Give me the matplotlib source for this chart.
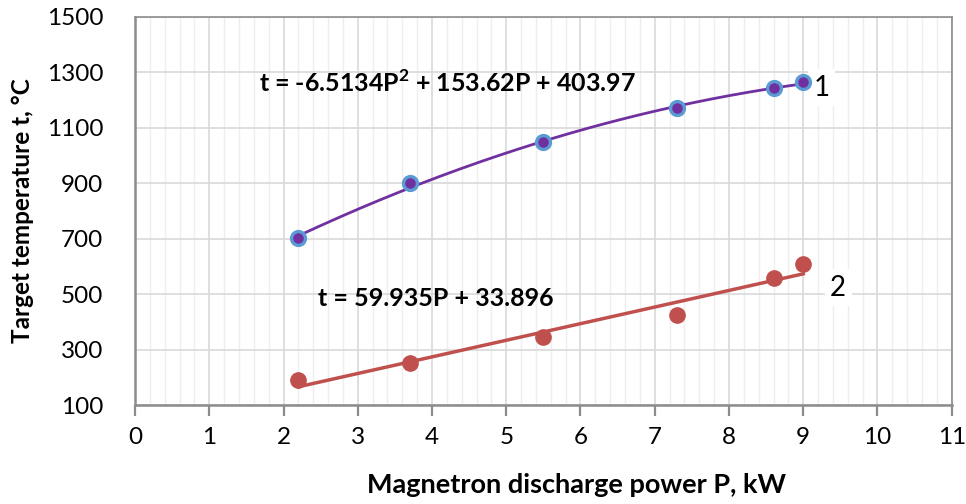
import matplotlib.pyplot as plt
import numpy as np
from matplotlib.ticker import MultipleLocator

# Measured points (power P in kW, temperature t in deg C)
power = [2.2, 3.7, 5.5, 7.3, 8.6, 9.0]
temp_1 = [703, 900, 1048, 1170, 1242, 1267]
temp_2 = [190, 250, 346, 426, 558, 610]

# Trendline coefficients as printed on the chart
quad_coef = [-6.5134, 153.62, 403.97]
lin_coef = [59.935, 33.896]

y_ticks = [100, 300, 500, 700, 900, 1100, 1300, 1500]

eq_1 = "t = -6.5134P$^{\\mathbf{2}}$ + 153.62P + 403.97"
eq_2 = "t = 59.935P + 33.896"

plt.rcParams["font.family"] = ["Lato", "DejaVu Sans"]
plt.rcParams["mathtext.fontset"] = "custom"
plt.rcParams["mathtext.bf"] = "Lato:bold"
plt.rcParams["mathtext.rm"] = "Lato"

PURPLE = "#7030A0"
BLUE = "#5B9BD5"
RED = "#C0504D"
AXIS = "#8C8C8C"

fig = plt.figure(figsize=(9.66, 5.04), dpi=100)
ax = fig.add_axes([0.1398, 0.1964, 0.9852 - 0.1398, 0.9663 - 0.1964])

p_fit = np.linspace(power[0], power[-1], 200)
ax.plot(p_fit, np.polyval(quad_coef, p_fit), color=PURPLE, lw=2, zorder=3)
ax.plot(p_fit, np.polyval(lin_coef, p_fit), color=RED, lw=2.5, zorder=3)

ax.plot(power, temp_1, "o", ms=10, mfc=PURPLE, mec=BLUE, mew=2.4, zorder=4)
ax.plot(power, temp_2, "o", ms=11, mfc=RED, mec=RED, zorder=4)

ax.set_xlim(0, 11)
ax.set_ylim(100, 1500)
ax.xaxis.set_major_locator(MultipleLocator(1))
ax.xaxis.set_minor_locator(MultipleLocator(0.2))
ax.set_yticks(y_ticks)

ax.grid(which="major", color="#D9D9D9", lw=1.2, zorder=0)
ax.grid(which="minor", axis="x", color="#EEEEEE", lw=1, zorder=0)
ax.set_axisbelow(True)

for side, sp in ax.spines.items():
    sp.set_color(AXIS)
    sp.set_linewidth(1.8 if side in ("left", "bottom") else 1.2)

ax.tick_params(axis="x", which="major", length=8, width=1.6, color=AXIS,
               labelsize=17.5, pad=8)
ax.tick_params(axis="x", which="minor", length=0)
ax.tick_params(axis="y", length=0, labelsize=17.5, pad=23)

ax.set_xlabel("Magnetron discharge power P, kW", fontsize=19.5,
              fontweight="bold")
ax.xaxis.set_label_coords(0.540, -0.175)
ax.set_ylabel("Target temperature t, °C", fontsize=17.5, fontweight="bold",
              labelpad=9)

ax.text(1.67, 1262, eq_1, fontsize=18, fontweight="bold", va="center",
        ha="left")
ax.text(2.46, 484, eq_2, fontsize=18, fontweight="bold", va="center",
        ha="left")

ax.text(9.25, 1245, "1", fontsize=20, va="center", ha="center",
        bbox=dict(facecolor="white", edgecolor="none", pad=4))
ax.text(9.47, 523, "2", fontsize=20, va="center", ha="center",
        bbox=dict(facecolor="white", edgecolor="none", pad=4))

fig.savefig("out.png", dpi=100)
